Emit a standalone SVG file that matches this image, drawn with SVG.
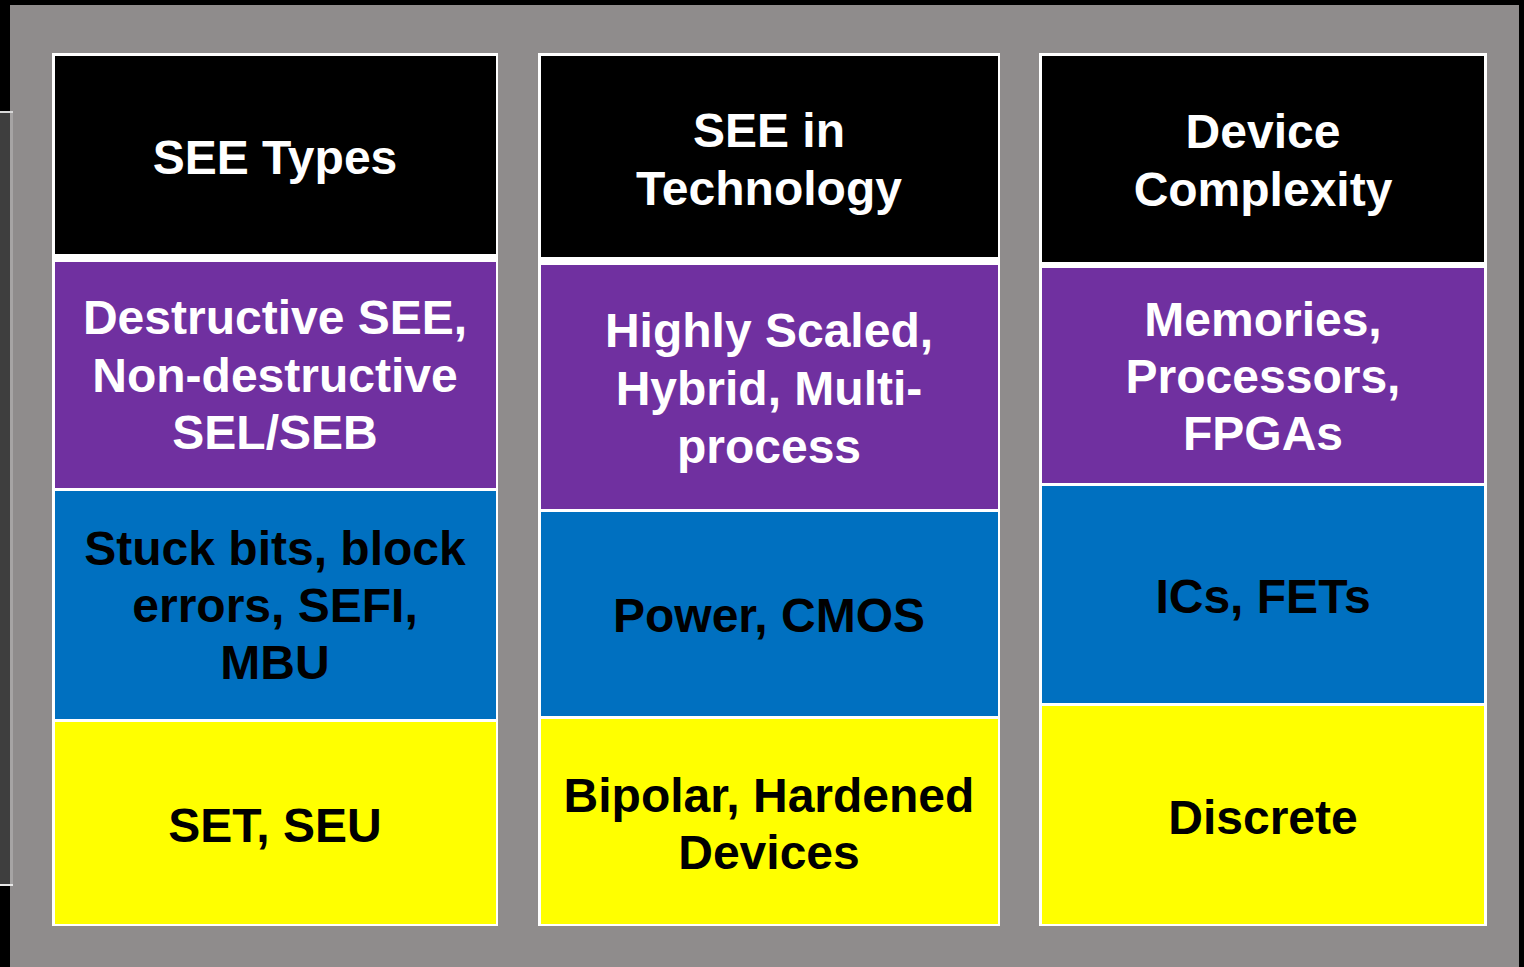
<svg xmlns="http://www.w3.org/2000/svg" width="1524" height="967" viewBox="0 0 1524 967">
<style>
.t{font-family:"Liberation Sans",Arial,sans-serif;font-weight:bold;font-size:48px;text-anchor:middle}
.w{fill:#ffffff}
.k{fill:#000000}
.frame{fill:#ffffff}
.hdr{fill:#000000}
.pur{fill:#7030A0}
.blu{fill:#0070C0}
.yel{fill:#FFFF00}
</style>
<rect x="0" y="0" width="1524" height="967" fill="#000000"/>
<rect x="10" y="5" width="1509" height="962" fill="#8F8C8C"/>
<g id="left-strip">
<rect x="0" y="111" width="11" height="774" fill="#3E3E3E"/>
<rect x="10" y="111" width="3" height="774" fill="#A6A4A4"/>
<rect x="0" y="111" width="13" height="2" fill="#D8D8D8"/>
<rect x="0" y="884" width="13" height="2" fill="#E8E8E8"/>
</g>
<g id="col1">
<rect class="frame" x="52" y="53" width="446" height="873"/>
<rect class="hdr" x="55" y="56" width="441" height="198"/>
<rect class="pur" x="55" y="262" width="441" height="226"/>
<rect class="blu" x="55" y="491" width="441" height="228"/>
<rect class="yel" x="55" y="722" width="441" height="202"/>
<text class="t w" x="275" y="174">SEE Types</text>
<text class="t w" x="275" y="334">Destructive SEE,</text>
<text class="t w" x="275" y="392">Non-destructive</text>
<text class="t w" x="275" y="449">SEL/SEB</text>
<text class="t k" x="275" y="565">Stuck bits, block</text>
<text class="t k" x="275" y="622">errors, SEFI,</text>
<text class="t k" x="275" y="679">MBU</text>
<text class="t k" x="275" y="842">SET, SEU</text>
</g>
<g id="col2">
<rect class="frame" x="538" y="53" width="462" height="873"/>
<rect class="hdr" x="541" y="56" width="457" height="201"/>
<rect class="pur" x="541" y="265" width="457" height="244"/>
<rect class="blu" x="541" y="512" width="457" height="204"/>
<rect class="yel" x="541" y="719" width="457" height="205"/>
<text class="t w" x="769" y="147">SEE in</text>
<text class="t w" x="769" y="205">Technology</text>
<text class="t w" x="769" y="347">Highly Scaled,</text>
<text class="t w" x="769" y="405">Hybrid, Multi-</text>
<text class="t w" x="769" y="463">process</text>
<text class="t k" x="769" y="632">Power, CMOS</text>
<text class="t k" x="769" y="812">Bipolar, Hardened</text>
<text class="t k" x="769" y="869">Devices</text>
</g>
<g id="col3">
<rect class="frame" x="1039" y="53" width="448" height="873"/>
<rect class="hdr" x="1042" y="56" width="442" height="206"/>
<rect class="pur" x="1042" y="268" width="442" height="215"/>
<rect class="blu" x="1042" y="486" width="442" height="217"/>
<rect class="yel" x="1042" y="706" width="442" height="218"/>
<text class="t w" x="1263" y="148">Device</text>
<text class="t w" x="1263" y="206">Complexity</text>
<text class="t w" x="1263" y="336">Memories,</text>
<text class="t w" x="1263" y="393">Processors,</text>
<text class="t w" x="1263" y="450">FPGAs</text>
<text class="t k" x="1263" y="613">ICs, FETs</text>
<text class="t k" x="1263" y="834">Discrete</text>
</g>
<g id="connectors"></g>
</svg>
